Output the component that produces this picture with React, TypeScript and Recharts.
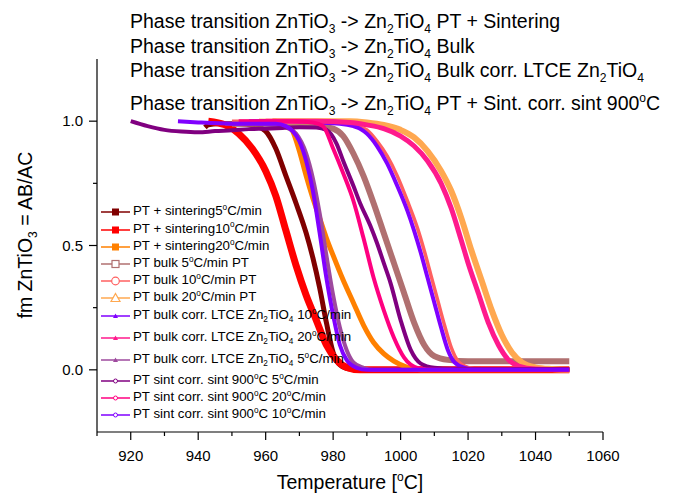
import React from "react";
import { LineChart, Line, XAxis, YAxis } from "recharts";

const FONT = "'Liberation Sans', Arial, sans-serif";

// ---- data (temperature in °C, fraction) ----
const sint5T = [942, 943, 946, 952, 957, 960, 963, 966, 969, 972, 974, 976, 978, 980, 982, 985, 990, 1000, 1020, 1050];
const sint5F = [0.975, 0.985, 0.99, 0.99, 0.98, 0.96, 0.89, 0.78, 0.67, 0.55, 0.45, 0.33, 0.19, 0.07, 0.02, 0.003, 0, 0, 0, 0];

const sint10T = [943, 948, 952, 956, 960, 963, 966, 969, 972, 975, 978, 981, 984, 988, 1000, 1020, 1050];
const sint10F = [1.0, 0.985, 0.95, 0.89, 0.8, 0.7, 0.56, 0.42, 0.3, 0.2, 0.1, 0.04, 0.01, 0, 0, 0, 0];

const sint20T = [958, 963, 966, 968, 970, 972, 974, 976, 978, 980, 983, 986, 989, 992, 995, 998, 1002, 1006, 1020, 1050];
const sint20F = [1.0, 1.0, 0.99, 0.96, 0.88, 0.78, 0.69, 0.61, 0.53, 0.46, 0.36, 0.27, 0.18, 0.11, 0.065, 0.035, 0.01, 0, 0, 0];

const bulk5T = [950, 960, 970, 976, 980, 983, 986, 989, 992, 995, 998, 1001, 1004, 1007, 1010, 1014, 1020, 1030, 1040, 1050];
const bulk5F = [0.99, 0.99, 0.985, 0.98, 0.97, 0.94, 0.87, 0.78, 0.67, 0.55, 0.43, 0.31, 0.19, 0.1, 0.055, 0.04, 0.035, 0.035, 0.035, 0.035];

const bulk10T = [950, 965, 975, 983, 987, 990, 993, 996, 999, 1002, 1005, 1007, 1009, 1011, 1013, 1015, 1017, 1020, 1025, 1050];
const bulk10F = [1.0, 1.0, 1.0, 0.995, 0.98, 0.965, 0.92, 0.86, 0.78, 0.68, 0.57, 0.48, 0.38, 0.28, 0.18, 0.09, 0.035, 0.01, 0, 0];

const bulk20T = [962, 975, 985, 990, 995, 1000, 1004, 1008, 1012, 1015, 1018, 1021, 1024, 1027, 1030, 1033, 1036, 1040, 1045, 1050];
const bulk20F = [1.0, 1.0, 1.0, 0.995, 0.985, 0.965, 0.935, 0.88, 0.8, 0.72, 0.61, 0.48, 0.36, 0.24, 0.14, 0.07, 0.03, 0.01, 0.003, 0];

const ltce10T = [955, 965, 975, 982, 986, 988, 990, 993, 996, 999, 1002, 1004, 1006, 1008, 1010, 1012, 1014, 1016, 1019, 1023, 1050];
const ltce10F = [1.0, 1.0, 0.995, 0.99, 0.98, 0.97, 0.95, 0.9, 0.83, 0.74, 0.64, 0.56, 0.47, 0.37, 0.27, 0.17, 0.08, 0.03, 0.008, 0, 0];

const ltce20T = [960, 975, 985, 990, 995, 1000, 1004, 1008, 1012, 1015, 1018, 1020, 1023, 1026, 1029, 1032, 1035, 1040, 1050];
const ltce20F = [1.0, 1.0, 0.995, 0.985, 0.97, 0.94, 0.9, 0.84, 0.75, 0.65, 0.52, 0.43, 0.31, 0.19, 0.1, 0.04, 0.015, 0.003, 0];

const ltce5T = [948, 955, 962, 966, 969, 972, 974, 976, 978, 980, 982, 984, 986, 989, 992, 1050];
const ltce5F = [0.99, 0.99, 0.985, 0.975, 0.95, 0.87, 0.77, 0.63, 0.46, 0.3, 0.17, 0.08, 0.03, 0.008, 0, 0];

const sc5T = [920, 925, 930, 935, 940, 945, 950, 955, 960, 965, 970, 975, 978, 981, 983, 986, 988, 991, 993, 995, 997, 1000, 1003, 1006, 1010, 1015, 1030, 1050];
const sc5F = [1.0, 0.98, 0.965, 0.958, 0.955, 0.96, 0.963, 0.968, 0.97, 0.973, 0.976, 0.975, 0.965, 0.91, 0.84, 0.74, 0.67, 0.58, 0.51, 0.43, 0.35, 0.2, 0.08, 0.025, 0.008, 0.004, 0.003, 0.003];

const sc20T = [952, 960, 968, 974, 977, 980, 983, 986, 989, 992, 995, 998, 1001, 1005, 1010, 1050];
const sc20F = [1.0, 1.0, 1.0, 0.995, 0.98, 0.89, 0.79, 0.68, 0.53, 0.37, 0.24, 0.13, 0.05, 0.008, 0, 0];

const sc10T = [934, 940, 950, 958, 963, 966, 968, 970, 972, 974, 976, 978, 980, 982, 984, 987, 990, 1050];
const sc10F = [1.0, 0.995, 0.99, 0.99, 0.99, 0.98, 0.96, 0.92, 0.84, 0.72, 0.55, 0.37, 0.22, 0.1, 0.04, 0.008, 0, 0];

const legendLabels = [
  "PT + sintering5^oC/min",
  "PT + sintering10^oC/min",
  "PT + sintering20^oC/min",
  "PT bulk 5^oC/min PT",
  "PT bulk 10^oC/min PT",
  "PT bulk 20^oC/min PT",
  "PT bulk corr. LTCE Zn_2TiO_4 10^oC/min",
  "PT bulk corr. LTCE Zn_2TiO_4 20^oC/min",
  "PT bulk corr. LTCE Zn_2TiO_4 5^oC/min",
  "PT sint corr. sint 900^oC 5^oC/min",
  "PT sint corr. sint 900^oC 20^oC/min",
  "PT sint corr. sint 900^oC 10^oC/min",
];

const titleLines = [
  "Phase transition ZnTiO_3 -> Zn_2TiO_4 PT + Sintering",
  "Phase transition ZnTiO_3 -> Zn_2TiO_4 Bulk",
  "Phase transition ZnTiO_3 -> Zn_2TiO_4 Bulk corr. LTCE Zn_2TiO_4",
  "Phase transition ZnTiO_3 -> Zn_2TiO_4 PT + Sint. corr. sint 900^oC",
];

const xTicks = [910, 920, 930, 940, 950, 960, 970, 980, 990, 1000, 1010, 1020, 1030, 1040, 1050, 1060];
const yTicks = [0, 0.25, 0.5, 0.75, 1.0];

const zip = (t: number[], f: number[]) => t.map((v, i) => ({ t: v, f: f[i] }));

// style per series (same order as legend)
const series = [
  { t: sint5T, f: sint5F, color: "#800000", w: 5, mk: "fsq" },
  { t: sint10T, f: sint10F, color: "#FF0000", w: 7, mk: "fsq" },
  { t: sint20T, f: sint20F, color: "#FF8000", w: 5, mk: "fsq" },
  { t: bulk5T, f: bulk5F, color: "#B07070", w: 6, mk: "osq" },
  { t: bulk10T, f: bulk10F, color: "#FF6060", w: 3.5, mk: "oci" },
  { t: bulk20T, f: bulk20F, color: "#FFA850", w: 6, mk: "otr" },
  { t: ltce10T, f: ltce10F, color: "#8000FF", w: 4, mk: "ftr" },
  { t: ltce20T, f: ltce20F, color: "#FF1A8C", w: 5, mk: "ftr" },
  { t: ltce5T, f: ltce5F, color: "#9E4A9E", w: 4, mk: "ftr" },
  { t: sc5T, f: sc5F, color: "#800080", w: 4, mk: "sci" },
  { t: sc20T, f: sc20F, color: "#FF0080", w: 4, mk: "sci" },
  { t: sc10T, f: sc10F, color: "#8000FF", w: 4, mk: "sci" },
];

// legend row centres (page y) - rows with subscripts are a bit taller
const legendY = [212, 229.5, 247, 264, 281, 298, 316, 338, 360, 381, 398, 415];

const rich = (s: string) => {
  const out: React.ReactNode[] = [];
  let buf = "";
  for (let i = 0; i < s.length; i++) {
    const c = s[i];
    if ((c === "_" || c === "^") && i + 1 < s.length) {
      if (buf) {
        out.push(buf);
        buf = "";
      }
      out.push(
        <span
          key={i}
          style={{
            fontSize: "0.62em",
            position: "relative",
            top: c === "_" ? "0.4em" : "-0.65em",
          }}
        >
          {s[i + 1]}
        </span>
      );
      i++;
    } else buf += c;
  }
  if (buf) out.push(buf);
  return out;
};

const Marker = ({ kind, color }: { kind: string; color: string }) => {
  const cx = 14.5;
  const cy = 9;
  if (kind === "fsq") return <rect x={cx - 3.5} y={cy - 3.5} width={7} height={7} fill={color} />;
  if (kind === "osq") return <rect x={cx - 3.5} y={cy - 3.5} width={7} height={7} fill="#fff" stroke={color} strokeWidth={1.2} />;
  if (kind === "oci") return <circle cx={cx} cy={cy} r={3.8} fill="#fff" stroke={color} strokeWidth={1.2} />;
  if (kind === "otr")
    return <polygon points={`${cx},${cy - 4.5} ${cx + 4.5},${cy + 3.5} ${cx - 4.5},${cy + 3.5}`} fill="#fff" stroke={color} strokeWidth={1.2} />;
  if (kind === "ftr")
    return <polygon points={`${cx},${cy - 2.5} ${cx + 2.5},${cy + 2} ${cx - 2.5},${cy + 2}`} fill={color} />;
  return <circle cx={cx} cy={cy} r={2} fill="#fff" stroke={color} strokeWidth={1} />;
};

const XTick = (props: any) => {
  const { x, y, payload } = props;
  const v = payload.value;
  const major = v % 20 === 0;
  return (
    <g>
      <line x1={x} y1={y} x2={x} y2={y + (major ? 8 : 4)} stroke="#000" strokeWidth={1.2} />
      {major && (
        <text x={x} y={y + 29} textAnchor="middle" fontSize={15} fontFamily={FONT} fill="#000">
          {v}
        </text>
      )}
    </g>
  );
};

const YTick = (props: any) => {
  const { x, y, payload } = props;
  const v = payload.value;
  const major = Math.abs(v * 2 - Math.round(v * 2)) < 1e-6;
  return (
    <g>
      <line x1={x - (major ? 8 : 4)} y1={y} x2={x} y2={y} stroke="#000" strokeWidth={1.2} />
      {major && (
        <text x={x - 14} y={y + 5} textAnchor="end" fontSize={15} fontFamily={FONT} fill="#000">
          {v.toFixed(1)}
        </text>
      )}
    </g>
  );
};

export default function App() {
  return (
    <div style={{ padding: 8, height: 481, fontFamily: FONT, color: "#000" }}>
      <style>{`body{margin:0}`}</style>
      <div style={{ position: "relative", width: 680, height: 481 }}>
        <LineChart width={680} height={480} margin={{ top: 51, right: 85, bottom: 0, left: 0 }}>
          <XAxis
            type="number"
            dataKey="t"
            domain={[910, 1060]}
            ticks={xTicks}
            interval={0}
            allowDataOverflow
            height={56}
            tickSize={0}
            tickMargin={0}
            tickLine={false}
            axisLine={{ stroke: "#000", strokeWidth: 1.2 }}
            tick={<XTick />}
          />
          <YAxis
            type="number"
            dataKey="f"
            domain={[-0.25, 1.25]}
            ticks={yTicks}
            interval={0}
            allowDataOverflow
            width={89}
            tickSize={0}
            tickMargin={0}
            tickLine={false}
            axisLine={{ stroke: "#000", strokeWidth: 1.2 }}
            tick={<YTick />}
          />
          {series.map((s, i) => (
            <Line
              key={i}
              data={zip(s.t, s.f)}
              dataKey="f"
              type="monotone"
              stroke={s.color}
              strokeWidth={s.w}
              dot={false}
              isAnimationActive={false}
            />
          ))}
        </LineChart>

        {/* title block */}
        {titleLines.map((line, i) => (
          <div
            key={i}
            style={{
              position: "absolute",
              left: 122,
              top: [20, 45, 69, 102][i] - 17,
              fontSize: 19.5,
              lineHeight: "20px",
              whiteSpace: "nowrap",
            }}
          >
            {rich(line)}
          </div>
        ))}

        {/* axis titles */}
        <div
          style={{
            position: "absolute",
            left: 18,
            top: 227,
            transform: "translate(-50%, -50%) rotate(-90deg)",
            fontSize: 19.5,
            lineHeight: "22px",
            whiteSpace: "nowrap",
          }}
        >
          {rich("fm ZnTiO_3 = AB/AC")}
        </div>
        <div
          style={{
            position: "absolute",
            left: 342,
            top: 463,
            transform: "translateX(-50%)",
            fontSize: 19.5,
            lineHeight: "22px",
            whiteSpace: "nowrap",
          }}
        >
          {rich("Temperature [^oC]")}
        </div>

        {/* legend */}
        {legendLabels.map((lab, i) => (
          <div
            key={i}
            style={{
              position: "absolute",
              left: 93,
              top: legendY[i] - 8 - 9,
              height: 18,
              display: "flex",
              alignItems: "center",
              fontSize: 13.3,
              whiteSpace: "nowrap",
            }}
          >
            <svg width={29} height={18} style={{ display: "block" }}>
              <line x1={0} y1={9} x2={29} y2={9} stroke={series[i].color} strokeWidth={1.5} />
              <Marker kind={series[i].mk} color={series[i].color} />
            </svg>
            <span style={{ marginLeft: 3, lineHeight: "18px" }}>{rich(lab)}</span>
          </div>
        ))}
      </div>
    </div>
  );
}
